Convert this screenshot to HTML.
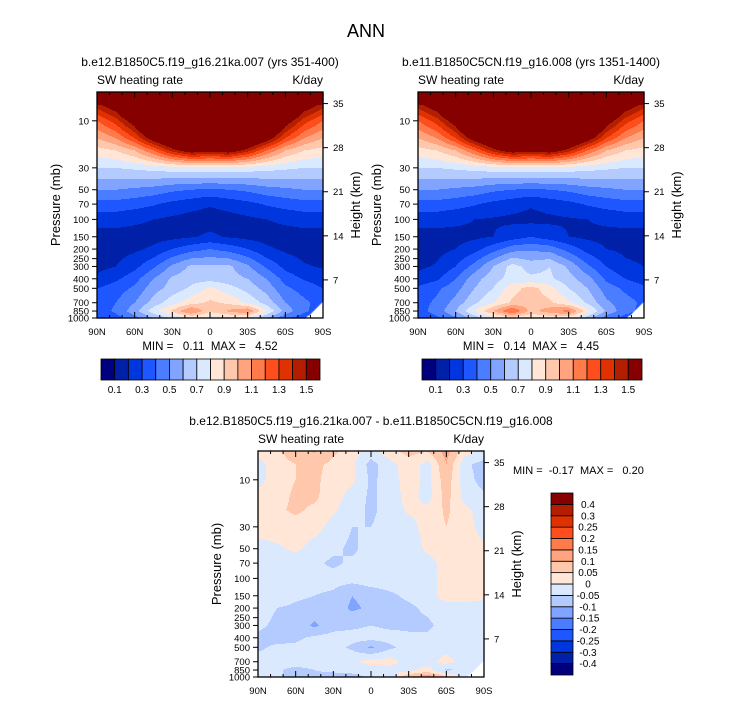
<!DOCTYPE html>
<html><head><meta charset="utf-8">
<style>
html,body{margin:0;padding:0;background:#fff;}
body{width:733px;height:701px;overflow:hidden;font-family:"Liberation Sans",Arial,sans-serif;}
svg text{font-family:"Liberation Sans",Arial,sans-serif;fill:#000;white-space:pre;}
</style></head>
<body>
<svg id="fig" width="733" height="701" viewBox="0 0 733 701" xmlns="http://www.w3.org/2000/svg">
<text x="366" y="37" font-size="18" text-anchor="middle">ANN</text>
</svg>
<script>
// ---------- data ----------
const lats = [90,75,60,45,30,15,0,-15,-30,-45,-60,-75,-90];
const plevs = [5,7,10,15,20,30,50,70,100,150,200,300,400,500,700,850,1000];
const surfaceP = [1000,1000,1000,1000,1000,1000,1000,1000,1000,1000,1000,1000,660];
const fieldA = [
 [2,2,2,2,2,2,2,2,2,2,2,2,2],
 [1.45,1.6,2,2,2,2,2,2,2,2,2,1.6,1.45],
 [1.2,1.35,1.6,2,2,2,2,2,2,2,1.6,1.35,1.2],
 [1.0,1.1,1.3,1.6,1.8,2,2,2,1.8,1.6,1.3,1.1,1.0],
 [0.86,0.9,1.0,1.2,1.45,1.6,1.55,1.6,1.45,1.2,1.0,0.9,0.86],
 [0.7,0.7,0.72,0.74,0.76,0.78,0.78,0.78,0.76,0.74,0.72,0.7,0.7],
 [0.5,0.5,0.48,0.46,0.42,0.4,0.38,0.4,0.42,0.46,0.48,0.5,0.5],
 [0.36,0.36,0.34,0.31,0.27,0.24,0.21,0.24,0.27,0.31,0.34,0.36,0.36],
 [0.24,0.24,0.22,0.2,0.18,0.16,0.15,0.16,0.18,0.2,0.22,0.24,0.24],
 [0.16,0.16,0.16,0.16,0.17,0.19,0.22,0.19,0.17,0.16,0.16,0.16,0.16],
 [0.15,0.16,0.18,0.22,0.3,0.36,0.4,0.36,0.3,0.22,0.18,0.16,0.15],
 [0.17,0.2,0.27,0.38,0.52,0.62,0.62,0.62,0.52,0.38,0.27,0.21,0.19],
 [0.22,0.28,0.36,0.5,0.62,0.66,0.66,0.64,0.6,0.5,0.36,0.29,0.24],
 [0.3,0.35,0.42,0.56,0.64,0.72,0.82,0.74,0.66,0.56,0.42,0.36,0.3],
 [0.34,0.4,0.5,0.64,0.76,0.86,0.92,0.88,0.78,0.66,0.5,0.42,0.36],
 [0.34,0.42,0.56,0.76,0.92,1.12,0.92,1.02,1.1,0.8,0.56,0.42,0.34],
 [0.3,0.36,0.46,0.6,0.72,0.8,0.76,0.78,0.78,0.6,0.42,0.34,0.3]
];
const fieldB = [
 [2,2,2,2,2,2,2,2,2,2,2,2,2],
 [1.45,1.6,2,2,2,2,2,2,2,2,2,1.6,1.45],
 [1.2,1.35,1.6,2,2,2,2,2,2,2,1.6,1.35,1.2],
 [1.0,1.1,1.3,1.6,1.8,2,2,2,1.8,1.6,1.3,1.1,1.0],
 [0.86,0.9,1.0,1.2,1.45,1.6,1.55,1.6,1.45,1.2,1.0,0.9,0.86],
 [0.7,0.7,0.72,0.74,0.76,0.78,0.78,0.78,0.76,0.74,0.72,0.7,0.7],
 [0.5,0.5,0.48,0.46,0.42,0.4,0.38,0.4,0.42,0.46,0.48,0.5,0.5],
 [0.36,0.36,0.34,0.31,0.27,0.24,0.21,0.24,0.27,0.31,0.34,0.36,0.36],
 [0.24,0.24,0.22,0.2,0.19,0.18,0.17,0.18,0.19,0.2,0.22,0.24,0.24],
 [0.16,0.16,0.17,0.18,0.2,0.25,0.3,0.25,0.2,0.18,0.17,0.16,0.16],
 [0.16,0.17,0.2,0.26,0.36,0.46,0.48,0.46,0.36,0.26,0.2,0.18,0.17],
 [0.18,0.21,0.3,0.44,0.6,0.74,0.66,0.7,0.58,0.42,0.3,0.22,0.2],
 [0.23,0.28,0.4,0.56,0.66,0.74,0.72,0.72,0.64,0.54,0.38,0.3,0.25],
 [0.32,0.38,0.46,0.6,0.7,0.86,0.94,0.84,0.7,0.6,0.45,0.38,0.32],
 [0.36,0.42,0.54,0.68,0.8,0.92,0.96,0.92,0.82,0.68,0.52,0.44,0.38],
 [0.36,0.44,0.6,0.8,1.0,1.22,0.96,1.06,1.14,0.84,0.58,0.44,0.36],
 [0.32,0.38,0.48,0.64,0.76,0.84,0.8,0.82,0.82,0.64,0.44,0.36,0.32]
];
const fieldD = [
 [0.02,0.04,0.08,0.11,0.06,0.03,-0.02,0.04,0.07,0.06,0.12,0.03,-0.01],
 [-0.02,0.03,0.05,0.06,0.04,0.01,-0.07,-0.02,0.03,-0.02,0.1,-0.04,-0.07],
 [-0.02,0.03,0.05,0.06,0.03,0.01,-0.06,-0.03,0.03,-0.02,0.08,-0.03,-0.07],
 [0.02,0.03,0.06,0.06,0.02,-0.02,-0.06,-0.03,0.02,-0.02,0.07,-0.02,-0.04],
 [0.02,0.04,0.06,0.04,0.01,-0.03,-0.06,-0.03,0.01,0.01,0.06,0.01,-0.02],
 [0.02,0.03,0.03,0.02,-0.02,-0.05,-0.05,-0.03,-0.02,0.02,0.05,0.02,-0.02],
 [-0.02,-0.01,0.01,-0.02,-0.04,-0.06,-0.03,-0.02,-0.03,0.01,0.03,0.02,0.01],
 [-0.02,-0.02,-0.03,-0.04,-0.06,-0.04,-0.03,-0.02,-0.02,-0.02,0.02,0.02,0.02],
 [-0.02,-0.02,-0.02,-0.03,-0.03,-0.03,-0.02,-0.02,-0.02,-0.02,0.02,0.02,0.02],
 [-0.02,-0.02,-0.04,-0.05,-0.06,-0.1,-0.08,-0.06,-0.04,-0.02,0.02,0.02,0.01],
 [-0.03,-0.05,-0.06,-0.07,-0.07,-0.11,-0.09,-0.07,-0.06,-0.04,-0.02,-0.02,-0.02],
 [-0.04,-0.06,-0.07,-0.11,-0.07,-0.06,-0.05,-0.06,-0.06,-0.06,-0.03,-0.03,-0.02],
 [-0.06,-0.07,-0.06,-0.04,-0.03,-0.03,-0.03,-0.03,-0.04,-0.04,-0.03,-0.03,-0.03],
 [-0.06,-0.04,-0.04,-0.03,-0.03,-0.06,-0.11,-0.06,-0.03,-0.02,-0.02,-0.05,-0.03],
 [-0.03,-0.02,-0.02,-0.02,-0.02,-0.01,0.02,0.02,-0.02,-0.02,0.02,-0.02,-0.02],
 [-0.05,-0.04,-0.07,-0.05,-0.04,-0.03,-0.03,-0.02,-0.02,0.02,-0.06,-0.04,-0.03],
 [-0.04,-0.05,-0.05,-0.06,-0.07,-0.07,-0.04,-0.03,0.1,0.14,0.06,-0.02,-0.02]
];
const boundsAbs = [0.1,0.2,0.3,0.4,0.5,0.6,0.7,0.8,0.9,1.0,1.1,1.2,1.3,1.4,1.5];
const labelsAbs = ["0.1","0.3","0.5","0.7","0.9","1.1","1.3","1.5"];
const boundsDiff = [-0.4,-0.3,-0.25,-0.2,-0.15,-0.1,-0.05,0,0.05,0.1,0.15,0.2,0.25,0.3,0.4];
const labelsDiff = ["-0.4","-0.3","-0.25","-0.2","-0.15","-0.1","-0.05","0","0.05","0.1","0.15","0.2","0.25","0.3","0.4"];
const pTicks = [10,30,50,70,100,150,200,250,300,400,500,700,850,1000];
const zTicks = [7,14,21,28,35];
const latTicks = [90,60,30,0,-30,-60,-90];
const latLabels = ["90N","60N","30N","0","30S","60S","90S"];
const colors = ["#00007f","#0020a8","#0036dd","#1e56ff","#4a7dff","#80a4ff","#b3cbff","#dbe9ff","#ffe6d6","#ffc8ad","#ffa47e","#ff7b4c","#ff4e1e","#e03200","#b41e00","#860000"];

// ---------- drawing ----------
const NS = "http://www.w3.org/2000/svg";
const svg = document.getElementById('fig');
function mk(tag, attrs, parent){
  const e = document.createElementNS(NS, tag);
  for (const k in attrs) e.setAttribute(k, attrs[k]);
  (parent||svg).appendChild(e);
  return e;
}
function txt(s, x, y, size, anchor, parent){
  const t = mk('text', {x:x, y:y, 'font-size':size, 'text-anchor':anchor||'start'}, parent);
  t.textContent = s;
  return t;
}
const PPD = 98.6;
function yOfP(p, y1){ return y1 - PPD*Math.log10(1000/p); }
function pOfY(y, y1){ return 1000/Math.pow(10,(y1-y)/PPD); }
function xOfLat(lat, x0, w){ return x0 + (90-lat)/180*w; }
function yOfZ(z, y1){ return yOfP(1150*Math.exp(-z/6.8), y1); }

function surf(lat){
  const fi=(90-lat)/15; const i=Math.min(11,Math.floor(fi)); const f=fi-i;
  return surfaceP[i]*(1-f)+surfaceP[i+1]*f;
}
function sample(grid, lat, p){
  if (p > surf(lat)) return NaN;
  p = Math.max(plevs[0], Math.min(1000, p));
  let j=0; while (j<plevs.length-2 && plevs[j+1] < p) j++;
  const lp = Math.log(p), l0=Math.log(plevs[j]), l1=Math.log(plevs[j+1]);
  const fy = (lp-l0)/(l1-l0);
  const fi = (90-lat)/15;
  let i = Math.min(11, Math.floor(fi)); const fx = fi - i;
  const a=grid[j][i], b=grid[j][i+1], c=grid[j+1][i], d=grid[j+1][i+1];
  return (a*(1-fx)+b*fx)*(1-fy) + (c*(1-fx)+d*fx)*fy;
}
function level(v, bounds){
  if (isNaN(v)) return -1;
  let k=0; while (k<bounds.length && v>=bounds[k]) k++;
  return k;
}

function panel(name, x0, y0, w, h, grid, bounds, sub){
  const g = mk('g', {});
  
  
  const y1 = y0+h;
  const fg = mk('g', {}, g);
  
  
  for (let py=0; py<h; py++){
    const p = pOfY(y0+py+0.5, y1);
    let runStart=0, runLev=null;
    for (let px=0; px<=w; px++){
      let lev = null;
      if (px<w){ const lat = 90 - (px+0.5)/w*180; lev = level(sample(grid, lat, p), bounds); }
      if (px===w || lev!==runLev){
        if (runLev!==null && runLev>=0){
          const r = mk('rect', {x:x0+runStart, y:y0+py, width:px-runStart+0.6, height:1.6, fill:colors[runLev]}, fg);
          
          
        }
        runStart=px; runLev=lev;
      }
    }
  }
  const fr = mk('rect', {x:x0, y:y0, width:w, height:h, fill:'none', stroke:'#000', 'stroke-width':1.3}, g);
  
  
  pTicks.forEach(p=>{
    const y=yOfP(p,y1);
    mk('line',{x1:x0-5,x2:x0,y1:y,y2:y,stroke:'#000'},g);
    const t=txt(String(p), x0-8, y+3.5, 9.5, 'end', g);
    
    
  });
  zTicks.forEach(z=>{
    const y=yOfZ(z,y1);
    mk('line',{x1:x0+w,x2:x0+w+5,y1:y,y2:y,stroke:'#000'},g);
    const t=txt(String(z), x0+w+10, y+3.5, 9.5, 'start', g);
    
    
  });
  latTicks.forEach((lat,i)=>{
    const x=xOfLat(lat,x0,w);
    mk('line',{x1:x,x2:x,y1:y1,y2:y1-6,stroke:'#000'},g);
    mk('line',{x1:x,x2:x,y1:y0,y2:y0+6,stroke:'#000'},g);
    const t=txt(latLabels[i], x, y1+17, 9.5, 'middle', g);
    
    
  });
  for (let lat=80; lat>-90; lat-=10){
    if (lat%30===0) continue;
    const x=xOfLat(lat,x0,w);
    mk('line',{x1:x,x2:x,y1:y1,y2:y1-3,stroke:'#000'},g);
    mk('line',{x1:x,x2:x,y1:y0,y2:y0+3,stroke:'#000'},g);
  }
  let t=txt('SW heating rate', x0, y0-8, 12, 'start', g);
   
  t=txt('K/day', x0+w, y0-8, 12, 'end', g);
   
  t=txt(sub, x0+w/2, y0-26, 12, 'middle', g);
   
  t=mk('text',{x:0,y:0,'font-size':13,'text-anchor':'middle',transform:`translate(${x0-37},${y0+h/2}) rotate(-90)`},g);
  t.textContent='Pressure (mb)';
   
  t=mk('text',{x:0,y:0,'font-size':13,'text-anchor':'middle',transform:`translate(${x0+w+37},${y0+h/2}) rotate(-90)`},g);
  t.textContent='Height (km)';
   
  return g;
}

function hbar(name, x0, y0, w, h){
  const g = mk('g', {});
  
  
  const bw = w/colors.length;
  colors.forEach((c,i)=>{
    const r=mk('rect',{x:x0+i*bw,y:y0,width:bw,height:h,fill:c,stroke:'#000','stroke-width':0.8},g);
    
    
  });
  labelsAbs.forEach((s,k)=>{
    const t=txt(s, x0+(2*k+1)*bw, y0+h+13, 10, 'middle', g);
    
    
  });
}
function vbar(name, x0, y0, w, h){
  const g = mk('g', {});
  
  
  const bh = h/colors.length;
  colors.forEach((c,i)=>{
    const r=mk('rect',{x:x0,y:y0+h-(i+1)*bh,width:w,height:bh,fill:c,stroke:'#000','stroke-width':0.8},g);
    
    
  });
  labelsDiff.forEach((s,k)=>{
    const t=txt(s, x0+w+15, y0+h-(k+1)*bh+3.5, 10, 'middle', g);
    
    
  });
}

panel('control-panel', 97, 92, 226, 226, fieldA, boundsAbs, 'b.e12.B1850C5.f19_g16.21ka.007 (yrs 351-400)');
panel('test-panel', 418, 92, 226, 226, fieldB, boundsAbs, 'b.e11.B1850C5CN.f19_g16.008 (yrs 1351-1400)');
panel('difference-panel', 258, 451, 226, 226, fieldD, boundsDiff, 'b.e12.B1850C5.f19_g16.21ka.007 - b.e11.B1850C5CN.f19_g16.008');
hbar('control-colorbar', 101, 359, 219, 21);
hbar('test-colorbar', 422, 359, 220, 21);
vbar('difference-colorbar', 551, 493, 22, 182);
let s;
s=txt('MIN =   0.11  MAX =   4.52', 210, 350, 11.5, 'middle');  
s=txt('MIN =   0.14  MAX =   4.45', 531, 350, 11.5, 'middle');  
s=txt('MIN =  -0.17  MAX =   0.20', 513, 474, 11, 'start');  
</script>
</body></html>
